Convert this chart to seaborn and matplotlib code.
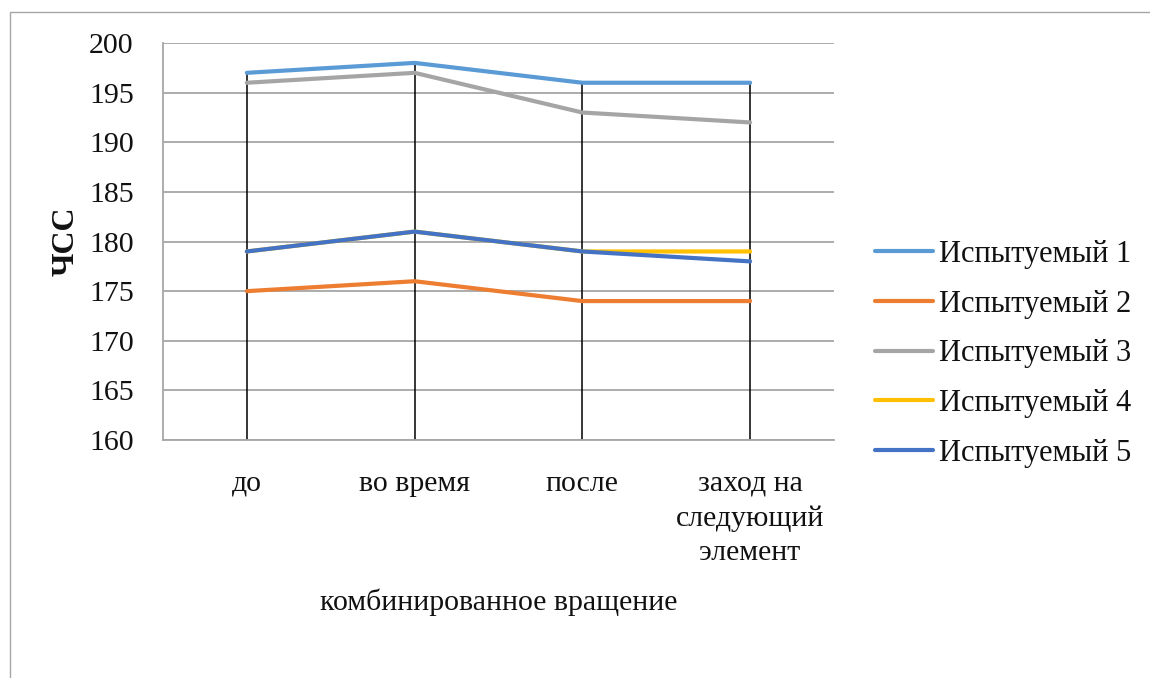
import matplotlib
matplotlib.use("Agg")
import matplotlib.pyplot as plt
import numpy as np
import pandas as pd
import seaborn as sns
from matplotlib.patches import Rectangle

# данные
stages = ["до", "во время", "после", "заход на\nследующий\nэлемент"]
subjects = ["Испытуемый 1", "Испытуемый 2", "Испытуемый 3", "Испытуемый 4", "Испытуемый 5"]
hr_1 = [197, 198, 196, 196]
hr_2 = [175, 176, 174, 174]
hr_3 = [196, 197, 193, 192]
hr_4 = [179, 181, 179, 179]
hr_5 = [179, 181, 179, 178]
colors = ["#5B9BD5", "#ED7D31", "#A5A5A5", "#FFC000", "#4472C4"]
y_ticks = [160, 165, 170, 175, 180, 185, 190, 195, 200]

series = [hr_1, hr_2, hr_3, hr_4, hr_5]
df = pd.DataFrame({
    "stage": stages * len(subjects),
    "hr": np.concatenate(series),
    "subject": np.repeat(subjects, len(stages)),
})

sns.set_style("white")
plt.rcParams['font.family'] = ['Liberation Serif', 'DejaVu Serif']
plt.rcParams['text.color'] = '#111111'

fig = plt.figure(figsize=(11.5, 6.78), dpi=100)
ax = fig.add_axes([0.1417, 0.351, 0.5835, 0.5855])

# рамка диаграммы
fig.patches.append(Rectangle((10 / 1150, -0.01), 1.2, 1 - 12 / 678 + 0.01, transform=fig.transFigure,
                             fill=False, edgecolor="#A6A6A6", linewidth=1))

ax.set_ylim(160, 200)
ax.set_yticks(y_ticks)
ax.yaxis.grid(True, color="#A6A6A6", linewidth=1.3)
ax.set_axisbelow(True)

# линии проекции
top = np.max(np.array(series), axis=0)
ax.vlines(range(len(stages)), 160, top, color="black", linewidth=1.1, zorder=2)

sns.lineplot(data=df, x="stage", y="hr", hue="subject", palette=colors, sort=False,
             linewidth=3, ax=ax, zorder=3)
ax.set_xlim(-0.5, len(stages) - 0.5)

for s in ["top", "right"]:
    ax.spines[s].set_visible(False)
for s in ["left", "bottom"]:
    ax.spines[s].set_color("#A6A6A6")
    ax.spines[s].set_linewidth(1.3)

ax.tick_params(axis="y", length=10, width=1.3, color="#A6A6A6", labelsize=21.5, pad=11,
               labelcolor="#111111")
ax.tick_params(axis="x", length=0, labelsize=21.5, pad=22, labelcolor="#111111")
ax.set_xticks(range(len(stages)))
ax.set_xticklabels(stages, linespacing=1.42)

ax.set_xlabel("комбинированное вращение", fontsize=21.5, labelpad=16, color="#111111")
ax.set_ylabel("ЧСС", fontsize=23, fontweight="bold", labelpad=6, color="#111111")

ax.legend(loc="center left", bbox_to_anchor=(1.061, 0.217), frameon=False, fontsize=22,
          borderpad=0, borderaxespad=0, handlelength=1.9, handletextpad=0.2, labelspacing=0.68)

fig.savefig("out.png", dpi=100)
